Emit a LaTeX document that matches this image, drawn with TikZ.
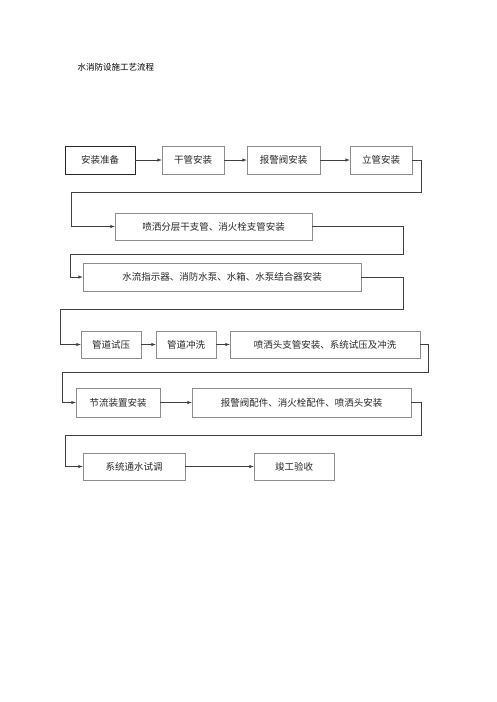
\documentclass[tikz,border=0pt]{standalone}
\usepackage{fontspec}
\newfontfamily\cjk{Noto Sans CJK SC}
\usepackage{tikz}
\usetikzlibrary{calc}

\begin{document}
\begin{tikzpicture}[x=1pt,y=-1pt,
	stepbox/.style={draw=black!45,line width=0.5pt,minimum height=27pt,inner sep=0pt,font=\cjk\fontsize{9.5}{10}\selectfont,text=black!85},
	flow/.style={draw=black!75,line width=0.5pt,-latex}]
	\useasboundingbox (0,0) rectangle (496,702);
	\node[font=\cjk\fontsize{8.5}{9}\selectfont,anchor=west] (title) at (74,67) {水消防设施工艺流程};
	% first row
	\node[stepbox,draw=black!85,line width=0.7pt,minimum width=70pt,minimum height=28pt] (a1) at (100,160) {安装准备};
	\node[stepbox,minimum width=62pt,minimum height=28pt] (a2) at (193,160) {干管安装};
	\node[stepbox,minimum width=73pt,minimum height=28pt] (a3) at (283.5,160) {报警阀安装};
	\node[stepbox,minimum width=62pt,minimum height=28pt] (a4) at (381,160) {立管安装};
	\draw[flow] (a1) -- (a2); \draw[flow] (a2) -- (a3); \draw[flow] (a3) -- (a4);
	% second and third row
	\node[stepbox,minimum width=197pt] (b1) at (213.5,226.5) {喷洒分层干支管、消火栓支管安装};
	\node[stepbox,minimum width=278pt,minimum height=28pt] (c1) at (222,277) {水流指示器、消防水泵、水箱、水泵结合器安装};
	\coordinate (t1) at (421,192); \coordinate (t2) at (403,254); \coordinate (t3) at (403,309);
	\draw[flow] (a4.east) -| (t1) -| ([xshift=-44pt]b1.west) -- (b1.west);
	\draw[flow] (b1.east) -| (t2) -| ([xshift=-13pt]c1.west) -- (c1.west);
	% fourth row
	\node[stepbox,minimum width=60pt] (d1) at (111,344.5) {管道试压};
	\node[stepbox,minimum width=60pt] (d2) at (186,344.5) {管道冲洗};
	\node[stepbox,minimum width=190pt] (d3) at (325,344.5) {喷洒头支管安装、系统试压及冲洗};
	\draw[flow] (c1.east) -| (t3) -| ([xshift=-21pt]d1.west) -- (d1.west);
	\draw[flow] (d1) -- (d2); \draw[flow] (d2) -- (d3);
	% fifth row
	\node[stepbox,minimum width=84pt,minimum height=29pt] (e1) at (118,402.5) {节流装置安装};
	\node[stepbox,minimum width=219pt,minimum height=29pt] (e2) at (301.5,402.5) {报警阀配件、消火栓配件、喷洒头安装};
	\coordinate (t4) at (428,372); \coordinate (t5) at (421,435);
	\draw[flow] (d3.east) -| (t4) -| ([xshift=-14pt]e1.west) -- (e1.west);
	\draw[flow] (e1) -- (e2);
	% last row
	\node[stepbox,minimum width=102pt] (f1) at (134,466.5) {系统通水试调};
	\node[stepbox,minimum width=80pt] (f2) at (294,466.5) {竣工验收};
	\draw[flow] (e2.east) -| (t5) -| ([xshift=-18pt]f1.west) -- (f1.west);
	\draw[flow] (f1) -- (f2);
\end{tikzpicture}
\end{document}
